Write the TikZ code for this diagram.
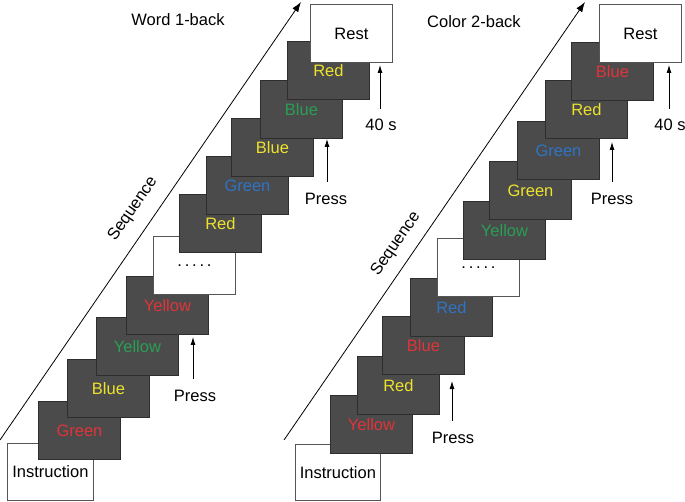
\documentclass[tikz,border=0pt]{standalone}
\usepackage{fontspec}
\setmainfont{Liberation Sans}
\usetikzlibrary{arrows.meta}
\definecolor{boxgray}{HTML}{4B4B4B}
\definecolor{boxedge}{HTML}{2E2E2E}
\definecolor{wedge}{HTML}{555555}
\definecolor{tred}{HTML}{E0343A}
\definecolor{tyel}{HTML}{EDE22C}
\definecolor{tgrn}{HTML}{2A9E55}
\definecolor{tblu}{HTML}{2F74C4}
\begin{document}
\begin{tikzpicture}[x=1pt,y=-1pt,
  every node/.style={font=\fontsize{16.5}{19}\selectfont},
  dk/.style={draw=boxedge, line width=0.9pt, fill=boxgray, minimum width=82pt, minimum height=58pt, anchor=north west, inner sep=0pt},
  wt/.style={draw=wedge, line width=0.9pt, fill=white, minimum width=82pt, minimum height=58pt, anchor=north west, inner sep=0pt, text=black},
  seqarrow/.style={line width=0.8pt, -{Latex[length=10pt,width=7pt]}},
  pressarrow/.style={line width=0.8pt, -{Latex[length=8pt,width=5pt]}},
  lbl/.style={text=black}]
\useasboundingbox (0,0) rectangle (685,502);
\newcommand{\dts}{.\kern2.8pt.\kern2.8pt.\kern2.8pt.\kern2.8pt.}
% ---------- left panel ----------
\node[lbl] (t1) at (178,20) {Word 1-back};
\coordinate (s1a) at (0,440);
\coordinate (s1b) at (301,2);
\draw[seqarrow] (s1a) -- (s1b);
\node[lbl, rotate=55.5, inner sep=0pt] (q1) at (133,209) {Sequence};
\node[wt, minimum width=86pt, minimum height=57pt] (i1) at (7,443) {Instruction};
\node[dk, text=tred] (l1) at (38,401) {Green};
\node[dk, text=tyel] (l2) at (67,359) {Blue};
\node[dk, text=tgrn] (l3) at (96,317) {Yellow};
\node[dk, text=tred] (l4) at (126,276) {Yellow};
\node[wt] (l5) at (153,236) {\dts};
\node[dk, text=tyel] (l6) at (179,194) {Red};
\node[dk, text=tblu] (l7) at (206,156) {Green};
\node[dk, text=tyel] (l8) at (231,118) {Blue};
\node[dk, text=tgrn] (l9) at (260,80) {Blue};
\node[dk, text=tyel] (l10) at (287,41) {Red};
\node[wt] (rs1) at (310,4) {Rest};
% press arrows left
\node[lbl] (p1) at (195,396) {Press};
\coordinate (p1t) at (193,337);
\draw[pressarrow] (p1.north -| p1t) ++(0,-8) -- (p1t);
\node[lbl] (p2) at (326,199) {Press};
\coordinate (p2t) at (327,139);
\draw[pressarrow] (p2.north -| p2t) ++(0,-8) -- (p2t);
\node[lbl] (f1) at (381,125) {40 s};
\coordinate (f1t) at (380,65);
\draw[pressarrow] (f1.north -| f1t) ++(0,-7) -- (f1t);
% ---------- right panel ----------
\node[lbl] (t2) at (474,22) {Color 2-back};
\coordinate (s2a) at (284,440);
\coordinate (s2b) at (585,2);
\draw[seqarrow] (s2a) -- (s2b);
\node[lbl, rotate=55.5, inner sep=0pt] (q2) at (396,244) {Sequence};
\node[wt, minimum width=85pt, minimum height=56pt] (i2) at (295,444) {Instruction};
\node[dk, text=tred] (r1) at (330,395) {Yellow};
\node[dk, text=tyel] (r2) at (357,356) {Red};
\node[dk, text=tred] (r3) at (382,316) {Blue};
\node[dk, text=tblu] (r4) at (410,278) {Red};
\node[wt] (r5) at (437,238) {\dts};
\node[dk, text=tgrn] (r6) at (463,201) {Yellow};
\node[dk, text=tyel] (r7) at (489,161) {Green};
\node[dk, text=tblu] (r8) at (517,121) {Green};
\node[dk, text=tyel] (r9) at (545,80) {Red};
\node[dk, text=tred] (r10) at (571,42) {Blue};
\node[wt] (rs2) at (599,4) {Rest};
% press arrows right
\node[lbl] (p3) at (453,438) {Press};
\coordinate (p3t) at (452,381);
\draw[pressarrow] (p3.north -| p3t) ++(0,-8) -- (p3t);
\node[lbl] (p4) at (612,199) {Press};
\coordinate (p4t) at (612,142);
\draw[pressarrow] (p4.north -| p4t) ++(0,-8) -- (p4t);
\node[lbl] (f2) at (670,125) {40 s};
\coordinate (f2t) at (669,65);
\draw[pressarrow] (f2.north -| f2t) ++(0,-7) -- (f2t);
\end{tikzpicture}
\end{document}
